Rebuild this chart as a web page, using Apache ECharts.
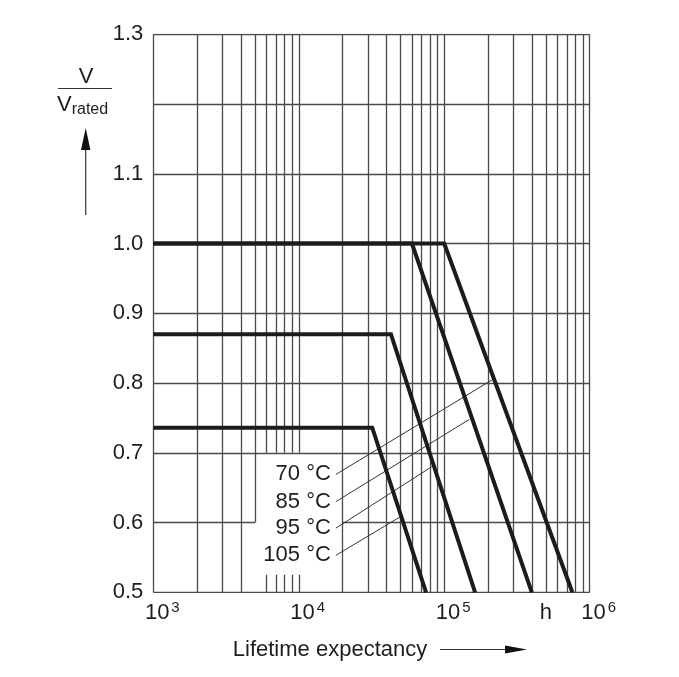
<!DOCTYPE html>
<html>
<head>
<meta charset="utf-8">
<script src="https://cdn.jsdelivr.net/npm/echarts@6/dist/echarts.min.js"></script>
<style>
  html, body { margin: 0; padding: 0; background: #fff; }
  #chart { width: 679px; height: 677px; }
</style>
</head>
<body>
<div id="chart"></div>
<script>
// curve data: V/Vrated plateau, lifetime at the knee and at V/Vrated = 0.5
const temps = ['70 °C', '85 °C', '95 °C', '105 °C'];
const plateauV = [1.0, 1.0, 0.87, 0.736];
const kneeH = [1.0e5, 6.0e4, 4.3e4, 3.2e4];
const endH = [7.6e5, 4.0e5, 1.63e5, 7.5e4];

// leader lines from the labels to the curves
const leaderStartH = [1.8e4, 1.8e4, 1.8e4, 1.8e4];
const leaderStartV = [0.669, 0.630, 0.592, 0.553];
const leaderTipH = [2.15e5, 1.49e5, 8.2e4, 4.96e4];
const leaderTipV = [0.805, 0.748, 0.680, 0.608];

// axes
const xDecades = [1e3, 1e4, 1e5];
const xMult = [1, 2, 3, 4, 5, 6, 7, 8, 9];
const yTicks = [0.5, 0.6, 0.7, 0.8, 0.9, 1.0, 1.1, 1.2, 1.3];
const hiddenYLabels = [1.2];
const unitLabelAt = 5e5;

// blank box behind the temperature labels
const boxFrom = 5e3, boxTo = 2e4, boxTop = 0.7, boxTickTop = 0.525, boxMidLine = 0.6;

const FONT = '"Liberation Sans", Arial, Helvetica, sans-serif';
const TXT = '#1e1e1e';
const GRID = '#4a4a4a';

// gridlines
const gridSegs = [];
const xLines = [];
xDecades.forEach(d => xMult.forEach(m => xLines.push(m * d)));
xLines.push(1e6);
xLines.forEach(x => {
    if (x > boxFrom * 1.001 && x < boxTo * 0.999) {
        gridSegs.push({ coords: [[x, boxTop], [x, 1.3]] });
        gridSegs.push({ coords: [[x, 0.5], [x, boxTickTop]] });
    } else if (Math.abs(x - boxFrom) < 1) {
        gridSegs.push({ coords: [[x, boxMidLine], [x, 1.3]] });
    } else {
        gridSegs.push({ coords: [[x, 0.5], [x, 1.3]] });
    }
});
yTicks.forEach(y => {
    if (Math.abs(y - boxMidLine) < 1e-6) {
        gridSegs.push({ coords: [[1e3, y], [boxFrom, y]] });
        gridSegs.push({ coords: [[boxTo, y], [1e6, y]] });
    } else {
        gridSegs.push({ coords: [[1e3, y], [1e6, y]] });
    }
});

const series = [{
    type: 'lines',
    coordinateSystem: 'cartesian2d',
    polyline: false,
    silent: true,
    z: 1,
    lineStyle: { color: GRID, width: 1.3, opacity: 1 },
    data: gridSegs
}];

temps.forEach((t, i) => {
    series.push({
        name: t,
        type: 'line',
        z: 4,
        symbol: 'none',
        lineStyle: { color: '#1c1c1c', width: 4, cap: 'butt', join: 'miter' },
        data: [[1e3, plateauV[i]], [kneeH[i], plateauV[i]], [endH[i], 0.5]]
    });
    series.push({
        type: 'line',
        z: 3,
        symbol: 'none',
        silent: true,
        lineStyle: { color: '#333', width: 1 },
        data: [[leaderStartH[i], leaderStartV[i]], [leaderTipH[i], leaderTipV[i]]]
    });
});

// temperature labels at the start of each leader
series.push({
    type: 'scatter',
    symbolSize: 0.1,
    silent: true,
    z: 5,
    itemStyle: { opacity: 1, color: 'transparent' },
    data: temps.map((t, i) => ({ value: [leaderStartH[i], leaderStartV[i]], name: t })),
    label: {
        show: true, position: 'left', distance: 5,
        formatter: p => p.name, fontFamily: FONT, fontSize: 22, color: TXT
    }
});

// unit "h" on the x axis
series.push({
    type: 'scatter',
    symbolSize: 0.1,
    silent: true,
    itemStyle: { opacity: 1, color: 'transparent' },
    data: [[unitLabelAt, 0.5]],
    label: {
        show: true, position: 'bottom', distance: 10,
        formatter: 'h', fontFamily: FONT, fontSize: 22, color: TXT
    }
});

const chart = echarts.init(document.getElementById('chart'));
chart.setOption({
    animation: false,
    backgroundColor: '#fff',
    grid: { left: 153.3, right: 89.3, top: 34.3, bottom: 84.7 },
    xAxis: {
        type: 'log',
        logBase: 10,
        min: 1e3,
        max: 1e6,
        axisLine: { show: false },
        axisTick: { show: false },
        splitLine: { show: false },
        axisLabel: {
            margin: 8,
            padding: [0, 0, 0, 18],
            formatter: v => '{b|10}{s|' + Math.round(Math.log10(v)) + '}',
            rich: {
                b: { fontFamily: FONT, fontSize: 22, color: TXT },
                s: { fontFamily: FONT, fontSize: 15, color: TXT, padding: [0, 0, 11, 2] }
            }
        }
    },
    yAxis: {
        type: 'value',
        min: 0.5,
        max: 1.3,
        interval: 0.1,
        axisLine: { show: false },
        axisTick: { show: false },
        splitLine: { show: false },
        axisLabel: {
            margin: 10,
            fontFamily: FONT, fontSize: 22, color: TXT,
            formatter: v => hiddenYLabels.some(h => Math.abs(h - v) < 1e-6) ? '' : v.toFixed(1)
        }
    },
    graphic: [
        // y axis title: V / Vrated with upward arrow
        { type: 'text', x: 86, y: 77, style: { text: 'V', fontFamily: FONT, fontSize: 22, fill: TXT, align: 'center', verticalAlign: 'middle' } },
        { type: 'line', shape: { x1: 58, y1: 88.5, x2: 112, y2: 88.5 }, style: { stroke: '#333', lineWidth: 1 } },
        {
            type: 'text', x: 57, y: 105,
            style: {
                text: '{v|V}{r|rated}',
                verticalAlign: 'middle',
                rich: {
                    v: { fontFamily: FONT, fontSize: 22, fill: TXT },
                    r: { fontFamily: FONT, fontSize: 16, fill: TXT, padding: [10, 0, 0, 0] }
                }
            }
        },
        { type: 'line', shape: { x1: 85.7, y1: 148, x2: 85.7, y2: 215 }, style: { stroke: '#333', lineWidth: 1.2 } },
        { type: 'polygon', shape: { points: [[85.7, 128], [81, 150], [90.4, 150]] }, style: { fill: '#111' } },
        // x axis title with arrow
        { type: 'text', x: 330, y: 650, style: { text: 'Lifetime expectancy', fontFamily: FONT, fontSize: 22, fill: TXT, align: 'center', verticalAlign: 'middle' } },
        { type: 'line', shape: { x1: 440, y1: 649.5, x2: 510, y2: 649.5 }, style: { stroke: '#333', lineWidth: 1.2 } },
        { type: 'polygon', shape: { points: [[527, 649.5], [505, 645.5], [505, 653.5]] }, style: { fill: '#111' } }
    ],
    series: series
});
</script>
</body>
</html>
